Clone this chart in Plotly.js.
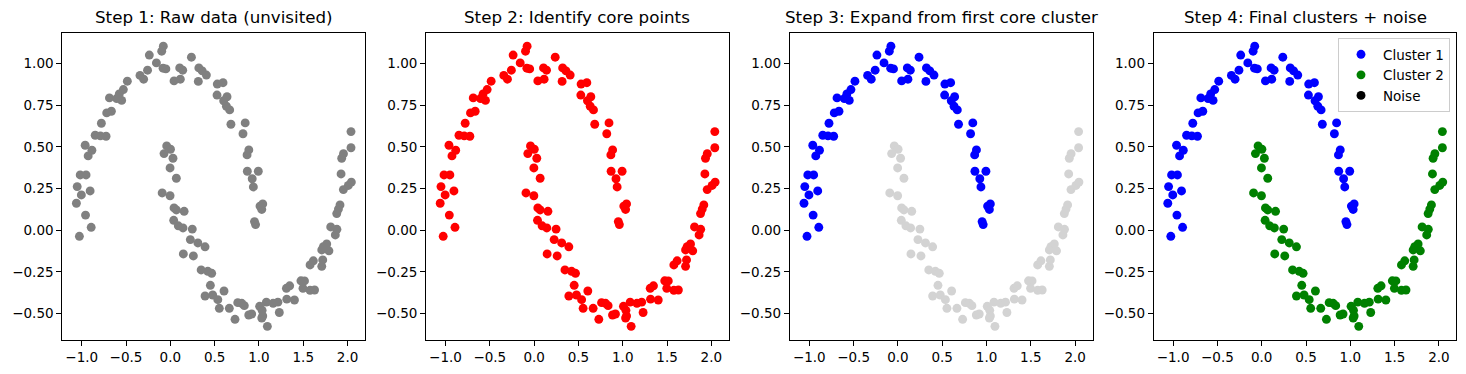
<!DOCTYPE html>
<html>
<head>
<meta charset="utf-8">
<script src="https://cdn.plot.ly/plotly-3.0.1.min.js"></script>
<style>html,body{margin:0;padding:0;background:#fff;}#chart{width:1466px;height:374px;}</style>
</head>
<body>
<div id="chart"></div>
<script>
// Outer moon (Cluster 1)
const outerX = [-1.026,-0.893,-0.957,-1.060,-1.004,-0.905,-1.051,-1.017,-0.951,-0.927,-0.885,-0.961,-0.848,-0.789,-0.725,-0.778,-0.665,-0.718,-0.687,-0.605,-0.549,-0.576,-0.530,-0.485,-0.342,-0.301,-0.257,-0.237,-0.157,-0.079,-0.097,-0.082,-0.050,
  0.238,0.106,0.140,0.042,0.113,0.322,0.360,0.407,0.316,0.530,0.595,0.527,0.640,0.602,0.633,0.670,0.684,0.845,0.820,0.886,0.866,0.869,0.993,0.924,0.937,1.043,1.012,1.032,0.950,0.962];
const outerY = [-0.036,0.018,0.091,0.162,0.212,0.236,0.262,0.332,0.332,0.446,0.480,0.510,0.570,0.566,0.564,0.642,0.714,0.704,0.794,0.790,0.779,0.818,0.844,0.894,0.929,0.906,0.960,1.051,1.004,1.104,1.074,0.972,0.968,
  1.038,0.974,0.960,0.896,0.906,0.974,0.956,0.931,0.893,0.877,0.885,0.811,0.801,0.777,0.744,0.722,0.636,0.644,0.579,0.482,0.452,0.354,0.354,0.309,0.260,0.158,0.145,0.125,0.052,0.034];
// Inner moon (Cluster 2)
const innerX = [-0.041,0.002,-0.071,0.030,-0.003,0.068,-0.092,-0.003,0.042,0.068,0.156,0.038,0.090,0.143,0.248,0.226,0.311,0.392,0.147,0.260,0.348,0.423,0.467,0.452,0.606,0.392,0.478,0.536,0.553,0.666,0.761,0.806,0.835,0.730,0.885,0.918,1.008,1.036,1.043,1.032,1.095,1.084,1.160,1.214,1.230,1.314,1.401,1.310,1.347,1.474,1.514,1.497,1.577,1.628,1.577,1.614,1.709,1.720,1.709,1.727,1.765,1.790,1.810,1.880,1.862,1.878,1.897,1.915,1.953,2.009,2.043,1.927,1.934,1.954,2.039,2.039];
const innerY = [0.506,0.486,0.460,0.432,0.374,0.312,0.224,0.207,0.134,0.122,0.114,0.060,0.027,0.014,0.007,-0.056,-0.076,-0.099,-0.142,-0.154,-0.238,-0.246,-0.258,-0.330,-0.364,-0.394,-0.388,-0.416,-0.468,-0.468,-0.434,-0.438,-0.452,-0.534,-0.508,-0.502,-0.456,-0.480,-0.514,-0.526,-0.576,-0.431,-0.438,-0.431,-0.493,-0.413,-0.418,-0.348,-0.333,-0.303,-0.304,-0.348,-0.360,-0.358,-0.208,-0.183,-0.216,-0.178,-0.118,-0.098,-0.082,-0.123,0.020,0.006,-0.028,0.100,0.127,0.152,0.244,0.269,0.289,0.338,0.432,0.459,0.495,0.592];
const noiseX = [];
const noiseY = [];

const titles = ["Step 1: Raw data (unvisited)", "Step 2: Identify core points", "Step 3: Expand from first core cluster", "Step 4: Final clusters + noise"];
const legendNames = ["Cluster 1", "Cluster 2", "Noise"];

const W = 1466, H = 374;
const panelLeft = [62.3, 426.1, 789.9, 1153.7];
const panelW = 302.7;
const yTop = 32.7, yBot = 340;
const MS = 8.9;
const FONT = "DejaVu Sans, sans-serif";

function mk(x, y, color, idx, name, show) {
  const ax = idx === 0 ? '' : String(idx + 1);
  return {x: x, y: y, type: 'scatter', mode: 'markers', xaxis: 'x' + ax, yaxis: 'y' + ax,
    marker: {color: color, size: MS, line: {width: 0}}, name: name || '', showlegend: !!show, hoverinfo: 'skip'};
}

const data = [
  mk(outerX, outerY, '#808080', 0), mk(innerX, innerY, '#808080', 0),
  mk(outerX, outerY, '#ff0000', 1), mk(innerX, innerY, '#ff0000', 1),
  mk(innerX, innerY, '#d3d3d3', 2), mk(outerX, outerY, '#0000ff', 2),
  mk(outerX, outerY, '#0000ff', 3, legendNames[0], true),
  mk(innerX, innerY, '#008000', 3, legendNames[1], true),
  mk(noiseX.length ? noiseX : [null], noiseY.length ? noiseY : [null], '#000000', 3, legendNames[2], true)
];

const layout = {
  width: W, height: H, margin: {l: 0, r: 0, t: 0, b: 0},
  paper_bgcolor: '#fff', plot_bgcolor: '#fff',
  font: {family: FONT, size: 13.5, color: '#000'},
  showlegend: true,
  legend: {x: 1450 / W, y: (H - 38) / H, xanchor: 'right', yanchor: 'top', bgcolor: 'rgba(255,255,255,0.8)',
    bordercolor: '#cccccc', borderwidth: 1, font: {family: FONT, size: 13.5, color: '#000'}, tracegroupgap: 0,
    itemwidth: 34},
  annotations: []
};

for (let i = 0; i < 4; i++) {
  const ax = i === 0 ? '' : String(i + 1);
  const d0 = panelLeft[i] / W, d1 = (panelLeft[i] + panelW) / W;
  layout['xaxis' + ax] = {domain: [d0, d1], range: [-1.219, 2.197], anchor: 'y' + ax,
    showline: true, mirror: true, linecolor: '#000', linewidth: 1, showgrid: false, zeroline: false,
    ticks: 'outside', ticklen: 5, tickwidth: 1, tickcolor: '#000', tick0: 0, dtick: 0.5, tickformat: '.1f',
    tickfont: {family: FONT, size: 13.5, color: '#000'}, fixedrange: true};
  layout['yaxis' + ax] = {domain: [(H - yBot) / H, (H - yTop) / H], range: [-0.658, 1.185], anchor: 'x' + ax,
    showline: true, mirror: true, linecolor: '#000', linewidth: 1, showgrid: false, zeroline: false,
    ticks: 'outside', ticklen: 5, tickwidth: 1, tickcolor: '#000', tick0: 0, dtick: 0.25, tickformat: '.2f',
    tickfont: {family: FONT, size: 13.5, color: '#000'}, fixedrange: true};
  layout.annotations.push({text: titles[i], xref: 'paper', yref: 'paper', x: (d0 + d1) / 2, y: (H - yTop) / H,
    xanchor: 'center', yanchor: 'bottom', yshift: 4, showarrow: false, font: {family: FONT, size: 16.7, color: '#000'}});
}

Plotly.newPlot('chart', data, layout, {displayModeBar: false, staticPlot: true});
</script>
</body>
</html>
